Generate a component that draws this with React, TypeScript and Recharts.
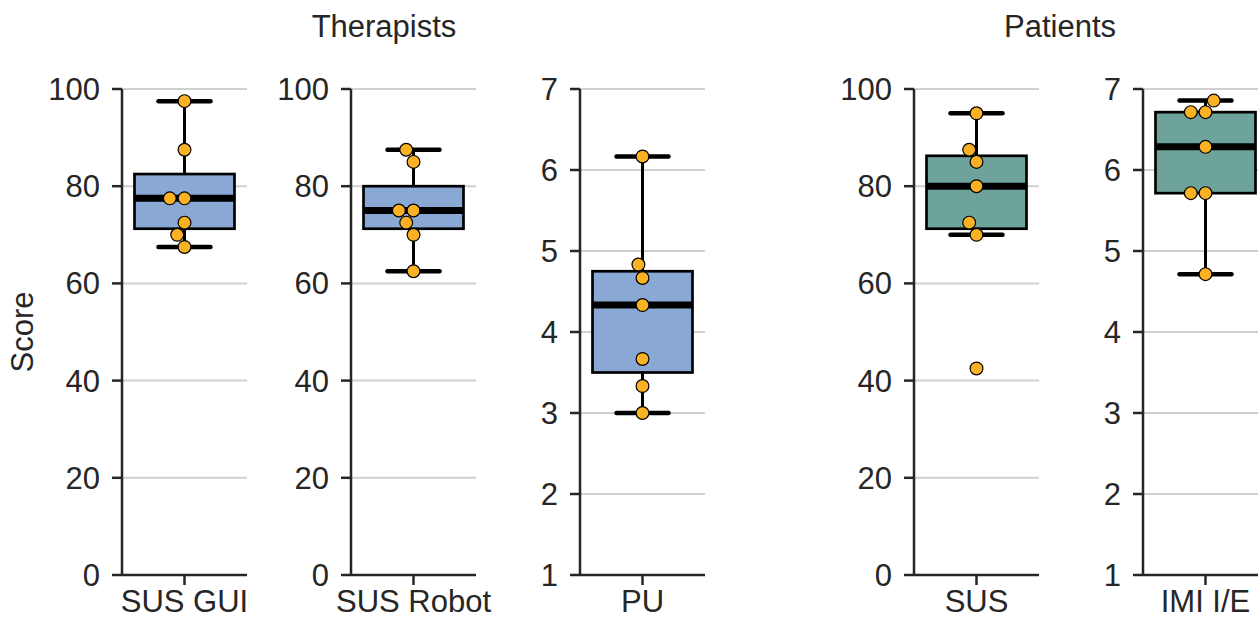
import { Bar, CartesianGrid, ComposedChart, Scatter, XAxis, YAxis } from 'recharts';

// scores per questionnaire (one value per participant)
const susGui = [97.5, 87.5, 77.5, 77.5, 72.5, 70, 67.5];
const susRobot = [87.5, 85, 75, 75, 72.5, 70, 62.5];
const puScores = [6.167, 4.833, 4.667, 4.333, 3.667, 3.333, 3.0];
const susPatients = [95, 87.5, 85, 80, 72.5, 70, 42.5];
const imiScores = [6.857, 6.714, 6.714, 6.286, 5.714, 5.714, 4.714];

const susTicks = [0, 20, 40, 60, 80, 100];
const likertTicks = [1, 2, 3, 4, 5, 6, 7];

const THERAPIST_FILL = '#89A9D4';
const PATIENT_FILL = '#6DA39A';
const POINT_FILL = '#FBB124';
const INK = '#262626';
const FONT = '"Liberation Sans", Arial, sans-serif';
const FONT_SIZE = 31;

const PLOT_TOP = 89;
const PLOT_H = 486;
const PLOT_W = 125;
const Y_AXIS_W = 80;
const X_AXIS_H = 44;
const EXTRA_RIGHT = 50;
const EXTRA_BOTTOM = 30;

const panels = [
  { label: 'SUS GUI', values: susGui, ticks: susTicks, fill: THERAPIST_FILL, axisX: 122 },
  { label: 'SUS Robot', values: susRobot, ticks: susTicks, fill: THERAPIST_FILL, axisX: 351 },
  { label: 'PU', values: puScores, ticks: likertTicks, fill: THERAPIST_FILL, axisX: 580 },
  { label: 'SUS', values: susPatients, ticks: susTicks, fill: PATIENT_FILL, axisX: 914 },
  { label: 'IMI I/E', values: imiScores, ticks: likertTicks, fill: PATIENT_FILL, axisX: 1143 },
];

const quantile = (sorted: number[], p: number) => {
  const pos = (sorted.length - 1) * p;
  const lo = Math.floor(pos);
  const hi = Math.ceil(pos);
  return sorted[lo] + (sorted[hi] - sorted[lo]) * (pos - lo);
};

const boxStats = (values: number[]) => {
  const s = [...values].sort((a, b) => a - b);
  const q1 = quantile(s, 0.25);
  const med = quantile(s, 0.5);
  const q3 = quantile(s, 0.75);
  const iqr = q3 - q1;
  const lo = Math.min(...s.filter((v) => v >= q1 - 1.5 * iqr));
  const hi = Math.max(...s.filter((v) => v <= q3 + 1.5 * iqr));
  return { lo, q1, med, q3, hi };
};

// beeswarm like seaborn: place each point at the closest non-overlapping spot
const swarmOffsets = (values: number[], pxPerUnit: number) => {
  const D = 14;
  const order = values.map((_, i) => i).sort((a, b) => values[a] - values[b]);
  const placed: { x: number; y: number }[] = [];
  const out = new Array(values.length).fill(0);
  for (const i of order) {
    const y = values[i] * pxPerUnit;
    const neighbors = placed.filter((p) => Math.abs(p.y - y) < D);
    const cands = [0];
    let leftFirst = true;
    for (const p of neighbors) {
      const dy = y - p.y;
      const dx = Math.sqrt(Math.max(D * D - dy * dy, 0)) * 1.05;
      const l = p.x - dx;
      const r = p.x + dx;
      cands.push(...(leftFirst ? [l, r] : [r, l]));
      leftFirst = !leftFirst;
    }
    const sorted = cands
      .map((c, k) => ({ c, k }))
      .sort((a, b) => Math.abs(a.c) - Math.abs(b.c) || a.k - b.k);
    let x = 0;
    for (const { c } of sorted) {
      if (neighbors.every((p) => Math.hypot(p.x - c, p.y - y) >= D - 1e-6)) {
        x = c;
        break;
      }
    }
    placed.push({ x, y });
    out[i] = x;
  }
  return out;
};

const BoxShape = (props: any) => {
  const { x, y, width, height, payload, fill } = props;
  if (x == null || y == null) return null;
  const { lo, q1, med, q3, hi } = payload.stats;
  const top = Math.min(y, y + height);
  const bottom = Math.max(y, y + height);
  const toY = (v: number) => bottom - ((bottom - top) * (v - lo)) / (hi - lo);
  const cx = x + width / 2;
  const capHalf = width * 0.26;
  return (
    <g>
      <line x1={cx} x2={cx} y1={toY(hi)} y2={toY(lo)} stroke="#000" strokeWidth={3} />
      <line x1={cx - capHalf} x2={cx + capHalf} y1={toY(hi)} y2={toY(hi)} stroke="#000" strokeWidth={4.5} strokeLinecap="round" />
      <line x1={cx - capHalf} x2={cx + capHalf} y1={toY(lo)} y2={toY(lo)} stroke="#000" strokeWidth={4.5} strokeLinecap="round" />
      <rect x={x} y={toY(q3)} width={width} height={toY(q1) - toY(q3)} fill={fill} stroke="#000" strokeWidth={2.7} />
      <line x1={x} x2={x + width} y1={toY(med)} y2={toY(med)} stroke="#000" strokeWidth={7} />
    </g>
  );
};

const PointShape = (props: any) => {
  const { cx, cy, payload } = props;
  if (cx == null || cy == null) return null;
  return <circle cx={cx + payload.dx} cy={cy} r={6.4} fill={POINT_FILL} stroke="#000" strokeWidth={1.2} />;
};

const Panel = ({ panel }: { panel: (typeof panels)[number] }) => {
  const { label, values, ticks, fill, axisX } = panel;
  const min = ticks[0];
  const max = ticks[ticks.length - 1];
  const stats = boxStats(values);
  const offsets = swarmOffsets(values, PLOT_H / (max - min));
  const boxData = [{ name: label, range: [stats.lo, stats.hi], stats }];
  const pointData = values.map((v, i) => ({ name: label, v, dx: offsets[i] }));
  const tickStyle = { fill: INK, fontSize: FONT_SIZE, fontFamily: FONT };

  return (
    <div style={{ position: 'absolute', left: axisX - Y_AXIS_W, top: 0 }}>
      <ComposedChart
        width={Y_AXIS_W + PLOT_W + EXTRA_RIGHT}
        height={PLOT_TOP + PLOT_H + X_AXIS_H + EXTRA_BOTTOM}
        data={boxData}
        margin={{ top: PLOT_TOP, right: EXTRA_RIGHT, bottom: EXTRA_BOTTOM, left: 0 }}
        barCategoryGap="10%"
      >
        <CartesianGrid horizontal vertical={false} stroke="#d0d0d0" strokeWidth={2} />
        <XAxis
          dataKey="name"
          type="category"
          allowDuplicatedCategory={false}
          height={X_AXIS_H}
          tick={tickStyle}
          tickSize={10}
          tickMargin={5}
          axisLine={{ stroke: INK, strokeWidth: 2.5 }}
          tickLine={{ stroke: INK, strokeWidth: 2.5 }}
        />
        <YAxis
          type="number"
          domain={[min, max]}
          ticks={ticks}
          interval={0}
          width={Y_AXIS_W}
          tick={tickStyle}
          tickSize={10}
          tickMargin={12}
          axisLine={{ stroke: INK, strokeWidth: 2.5 }}
          tickLine={{ stroke: INK, strokeWidth: 2.5 }}
        />
        <Bar dataKey="range" fill={fill} shape={<BoxShape />} isAnimationActive={false} />
        <Scatter data={pointData} dataKey="v" shape={<PointShape />} isAnimationActive={false} />
      </ComposedChart>
    </div>
  );
};

export default function App() {
  return (
    <div
      style={{
        position: 'absolute',
        left: 0,
        top: 0,
        width: 1258,
        height: 619,
        overflow: 'hidden',
        background: '#fff',
        fontFamily: FONT,
      }}
    >
      {panels.map((p) => (
        <Panel key={p.label} panel={p} />
      ))}
      <svg width={1258} height={619} style={{ position: 'absolute', left: 0, top: 0, pointerEvents: 'none' }}>
        <text x={384} y={37} textAnchor="middle" fontSize={FONT_SIZE} fill={INK} fontFamily={FONT}>
          Therapists
        </text>
        <text x={1060} y={37} textAnchor="middle" fontSize={FONT_SIZE} fill={INK} fontFamily={FONT}>
          Patients
        </text>
        <text x={33} y={332} textAnchor="middle" fontSize={FONT_SIZE} fill={INK} fontFamily={FONT} transform="rotate(-90 33 332)">
          Score
        </text>
      </svg>
    </div>
  );
}
